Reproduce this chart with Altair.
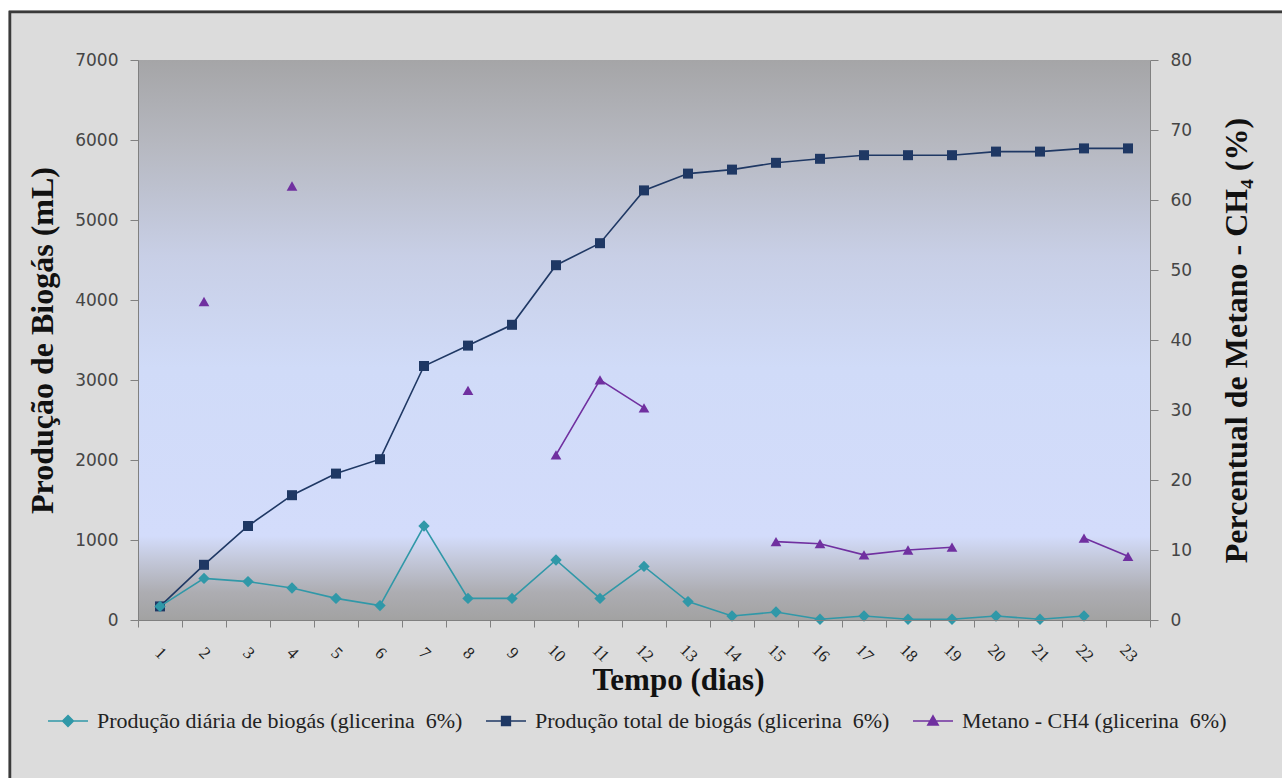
import altair as alt
import pandas as pd

days = [str(d) for d in range(1, 24)]
daily = [170, 520, 480, 400, 270, 180, 1175, 270, 270, 750, 270, 670, 230,
         50, 100, 10, 50, 10, 10, 50, 10, 50, None]
total = [170, 690, 1175, 1560, 1830, 2010, 3175, 3430, 3690, 4435, 4710, 5370,
         5580, 5630, 5715, 5765, 5810, 5810, 5810, 5855, 5855, 5895, 5895]
methane = [None, 45.5, None, 62.0, None, None, None, 32.8, None, 23.6, 34.3, 30.3,
           None, None, 11.2, 10.9, 9.3, 10.0, 10.4, None, None, 11.7, 9.1]

series_names = [
    "Produção diária de biogás (glicerina \u00a06%)",
    "Produção total de biogás (glicerina \u00a06%)",
    "Metano - CH4 (glicerina \u00a06%)",
]
series_colors = ["#3098a8", "#1f3864", "#7030a0"]
legend_paths = [
    "M-1,0H1M0,-0.27L0.27,0L0,0.27L-0.27,0Z",
    "M-1,0H1M-0.22,-0.22H0.22V0.22H-0.22Z",
    "M-1,0H1M0,-0.26L0.26,0.2H-0.26Z",
]

W, H = 1012, 560

df_daily = pd.DataFrame({"day": days, "value": daily}).dropna()
df_total = pd.DataFrame({"day": days, "value": total})
df_meth = pd.DataFrame({"day": days, "value": methane})
df_meth["seg"] = df_meth["value"].isna().cumsum()
df_meth = df_meth.dropna()
df_leg = pd.DataFrame({"series": series_names})

xscale = alt.Scale(type="band", domain=days, paddingInner=0, paddingOuter=0)
xenc = alt.X(
    "day:N", scale=xscale, sort=days,
    axis=alt.Axis(
        title="Tempo (dias)", titleFont="Liberation Serif", titleFontSize=31,
        titleFontWeight="bold", titleColor="#111111", titleY=60, titleX=540,
        titleAlign="center", titleBaseline="middle",
        labelAngle=45, labelAlign="center", labelBaseline="middle", labelPadding=26,
        labelFont="Liberation Serif", labelFontSize=17, labelColor="#222222",
        tickBand="extent", tickSize=7, tickColor="#808080", domainColor="#808080",
        zindex=1,
    ),
)

yleft_scale = alt.Scale(domain=[0, 7000], nice=False)
yleft_axis = alt.Axis(
    orient="left", values=list(range(0, 7001, 1000)), format="d",
    title="Produção de Biogás (mL)",
    titleFont="Liberation Serif", titleFontSize=32, titleFontWeight="bold",
    titleColor="#111111", titleAngle=-90, titleX=-96, titleY=H / 2,
    titleAlign="center", titleBaseline="middle",
    labelFont="DejaVu Sans", labelFontSize=17, labelColor="#454545", labelPadding=12,
    tickSize=8, tickColor="#808080", domainColor="#808080", grid=False, zindex=1,
)
yright_scale = alt.Scale(domain=[0, 80], nice=False)
yright_axis = alt.Axis(
    orient="right", values=list(range(0, 81, 10)), format="d",
    title="Percentual de Metano - CH₄ (%)",
    titleFont="Liberation Serif", titleFontSize=32, titleFontWeight="bold",
    titleColor="#111111", titleAngle=-90, titleX=86, titleY=H / 2,
    titleAlign="center", titleBaseline="middle",
    labelFont="DejaVu Sans", labelFontSize=17, labelColor="#454545", labelPadding=12,
    tickSize=8, tickColor="#808080", domainColor="#808080", grid=False, zindex=1,
)

frame = alt.Chart(df_leg).mark_rect(
    fill="#dcdcdc", stroke="#3a3a3a", strokeWidth=2.5
).encode(
    x=alt.value(-128), x2=alt.value(W + 150), y=alt.value(-48), y2=alt.value(H + 170)
)

grad = alt.LinearGradient(
    gradient="linear", x1=0, y1=0, x2=0, y2=1,
    stops=[
        alt.GradientStop(offset=0.0, color="#a5a5a7"),
        alt.GradientStop(offset=0.15, color="#b6b8c0"),
        alt.GradientStop(offset=0.35, color="#c8cfe6"),
        alt.GradientStop(offset=0.55, color="#d0dbf8"),
        alt.GradientStop(offset=0.85, color="#d3dcfb"),
        alt.GradientStop(offset=0.89, color="#c4c9dc"),
        alt.GradientStop(offset=0.95, color="#adadb2"),
        alt.GradientStop(offset=1.0, color="#a2a2a2"),
    ],
)
plotbg = alt.Chart(df_leg).mark_rect(fill=grad).encode(
    x=alt.value(0), x2=alt.value(W), y=alt.value(0), y2=alt.value(H)
)

yl = alt.Y("value:Q", scale=yleft_scale, axis=yleft_axis)

total_line = alt.Chart(df_total).mark_line(color=series_colors[1], strokeWidth=1.6).encode(x=xenc, y=yl)
total_pts = alt.Chart(df_total).mark_point(
    shape="square", filled=True, size=100, color=series_colors[1], opacity=1
).encode(x=xenc, y=yl)
daily_line = alt.Chart(df_daily).mark_line(color=series_colors[0], strokeWidth=1.6).encode(x=xenc, y=yl)
daily_pts = alt.Chart(df_daily).mark_point(
    shape="diamond", filled=True, size=130, color=series_colors[0], opacity=1
).encode(x=xenc, y=yl)

left = alt.layer(total_line, total_pts, daily_line, daily_pts)

yr = alt.Y("value:Q", scale=yright_scale, axis=yright_axis)
meth_line = alt.Chart(df_meth).mark_line(color=series_colors[2], strokeWidth=1.6).encode(
    x=xenc, y=yr, detail="seg:N")
meth_pts = alt.Chart(df_meth).mark_point(
    shape="triangle-up", filled=True, size=115, color=series_colors[2], opacity=1
).encode(x=xenc, y=yr)
right = alt.layer(meth_line, meth_pts)

legend_layer = alt.Chart(df_leg).mark_point(filled=True, clip=True, strokeWidth=1.5).encode(
    x=alt.value(-900), y=alt.value(-900),
    color=alt.Color("series:N", scale=alt.Scale(domain=series_names, range=series_colors),
                    sort=series_names,
                    legend=alt.Legend(
                        title=None, orient="none", direction="horizontal",
                        legendX=-91, legendY=640, symbolSize=1600, symbolStrokeWidth=1.5,
                        labelFont="Liberation Serif", labelFontSize=22, labelColor="#222222",
                        labelLimit=0, columnPadding=20, labelOffset=8, symbolOpacity=1,
                    )),
    stroke=alt.Stroke("series:N", scale=alt.Scale(domain=series_names, range=series_colors),
                      sort=series_names, legend=None),
    shape=alt.Shape("series:N", scale=alt.Scale(domain=series_names, range=legend_paths),
                    sort=series_names, legend=None),
)

chart = alt.layer(frame, plotbg, left, right, legend_layer).resolve_scale(
    y="independent"
).properties(
    width=W, height=H,
    padding={"left": 138, "top": 60, "right": 132, "bottom": 158},
    autosize=alt.AutoSizeParams(type="none"),
    background="white",
).configure_view(stroke=None)

chart.save("out.html", embed_options={"renderer": "svg", "actions": False})
